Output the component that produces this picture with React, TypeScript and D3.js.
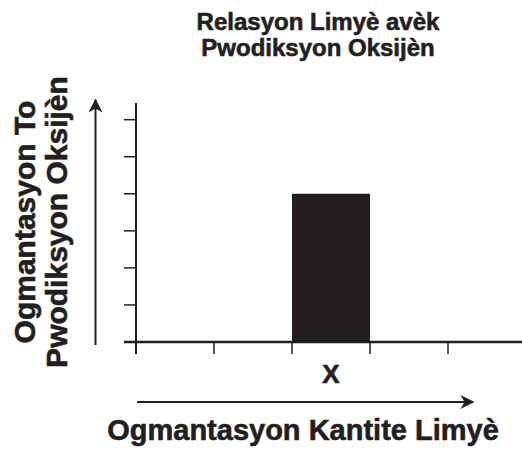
import React from 'react';
import * as d3 from 'd3';

// chart values
const categories = ['a', 'b', 'X', 'd', 'e'];
const values = [0, 0, 4, 0, 0];
const yTicks = [0, 1, 2, 3, 4, 5, 6];
const titleLines = ['Relasyon Limyè avèk', 'Pwodiksyon Oksijèn'];
const yLabelLines = ['Ogmantasyon To', 'Pwodiksyon Oksijèn'];
const xLabel = 'Ogmantasyon Kantite Limyè';

const W = 522;
const H = 451;
const ink = '#231f20';
const font = '"Liberation Sans", Arial, sans-serif';
const textStyle = { fontFamily: font, fontWeight: 'bold', fill: ink, stroke: ink, strokeWidth: 0.6 } as const;

const App = () => {
  const x = d3.scaleBand().domain(categories).range([136, 526]).padding(0);
  const y = d3.scaleLinear().domain([0, 6.45]).range([342, 103]);

  return (
    <svg width={W} height={H} style={{ position: 'absolute', left: 0, top: 0 }}>
      <defs>
        <marker id="arr" viewBox="0 0 10 10" refX="9" refY="5" markerWidth="7" markerHeight="7" orient="auto">
          <path d="M0,0 L10,5 L0,10 L3,5 Z" fill={ink} />
        </marker>
      </defs>
      <rect width={W} height={H} fill="#fff" />

      {titleLines.map((t, i) => (
        <text key={t} x={318} y={29.5 + i * 26} textAnchor="middle" fontSize={24} style={textStyle}>{t}</text>
      ))}

      {/* bars */}
      {categories.map((c, i) => values[i] > 0 && (
        <rect key={c} x={x(c)} y={y(values[i])} width={x.bandwidth()}
          height={y(0) - y(values[i])} fill={ink} />
      ))}

      {/* y axis */}
      <line x1={136} x2={136} y1={y(6.45)} y2={354} stroke={ink} strokeWidth={2} />
      {yTicks.map(t => (
        <line key={t} x1={124} x2={136} y1={y(t)} y2={y(t)} stroke={ink} strokeWidth={1.5} />
      ))}

      {/* x axis */}
      <line x1={124} x2={W} y1={y(0)} y2={y(0)} stroke={ink} strokeWidth={2.5} />
      {categories.map(c => (
        <line key={c} x1={x(c)} x2={x(c)} y1={y(0)} y2={354} stroke={ink} strokeWidth={1.5} />
      ))}
      <text x={(x('X') as number) + x.bandwidth() / 2} y={383} textAnchor="middle"
        fontSize={26} style={textStyle}>X</text>

      {/* arrows */}
      <line x1={95.5} x2={95.5} y1={345} y2={100} stroke={ink} strokeWidth={2} markerEnd="url(#arr)" />
      <line x1={137} x2={473} y1={402} y2={402} stroke={ink} strokeWidth={2} markerEnd="url(#arr)" />

      {/* axis labels */}
      <text x={303} y={440} textAnchor="middle" fontSize={29} style={textStyle}>{xLabel}</text>
      {yLabelLines.map((t, i) => (
        <text key={t} transform={`translate(${35 + i * 32},222) rotate(-90)`} textAnchor="middle"
          fontSize={30} style={textStyle}>{t}</text>
      ))}
    </svg>
  );
};

export default App;
